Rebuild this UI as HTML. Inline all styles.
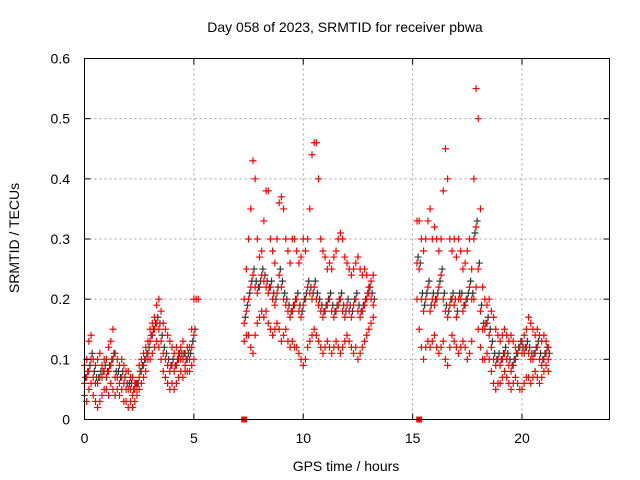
<!DOCTYPE html>
<html><head><meta charset="utf-8"><style>
body{margin:0;background:#fff;}
svg{display:block;font-family:"Liberation Sans",sans-serif;}
</style></head><body>
<svg id="chart" width="640" height="480">
<rect width="640" height="480" fill="#fff"/>
<text x="345" y="32" font-size="14" text-anchor="middle">Day 058 of 2023, SRMTID for receiver pbwa</text>
<text x="346" y="471" font-size="14" text-anchor="middle">GPS time / hours</text>
<text transform="translate(19,238) rotate(-90)" font-size="14" text-anchor="middle">SRMTID / TECUs</text>
<g id="grid"></g>
<g id="marks"></g>
<rect x="84.5" y="58.5" width="525" height="361" fill="none" stroke="#000"/>
<g id="ticks"></g>
</svg>
<script>
const xTicks=[0,5,10,15,20];
const yTicks=[0,0.1,0.2,0.3,0.4,0.5,0.6];
const yTickLabels=["0","0.1","0.2","0.3","0.4","0.5","0.6"];
const segStarts=[0,7.3,15.2];
const segStep=0.1;
const hi1=[0.09,0.1,0.13,0.14,0.1,0.09,0.1,0.11,0.09,0.1,0.1,0.12,0.13,0.15,0.11,0.1,0.09,0.1,0.09,0.08,0.08,0.07,0.07,0.06,0.06,0.09,0.1,0.11,0.12,0.13,0.15,0.16,0.17,0.19,0.2,0.18,0.16,0.15,0.14,0.13,0.12,0.11,0.12,0.11,0.12,0.13,0.11,0.12,0.12,0.15,0.2,0.2,0.2];
const lo1=[0.04,0.03,0.05,0.06,0.04,0.03,0.02,0.03,0.04,0.05,0.05,0.04,0.06,0.05,0.04,0.05,0.04,0.05,0.03,0.03,0.02,0.03,0.02,0.03,0.04,0.05,0.06,0.07,0.08,0.1,0.1,0.11,0.12,0.13,0.12,0.1,0.08,0.07,0.06,0.05,0.06,0.05,0.06,0.07,0.08,0.07,0.08,0.08,0.08,0.09,0.1];
const mid1=[0.06,0.07,0.08,0.1,0.07,0.06,0.06,0.07,0.07,0.08,0.07,0.08,0.09,0.1,0.07,0.07,0.06,0.07,0.06,0.05,0.05,0.05,0.04,0.05,0.05,0.07,0.08,0.09,0.1,0.11,0.13,0.14,0.15,0.16,0.15,0.13,0.11,0.1,0.09,0.08,0.09,0.08,0.09,0.1,0.1,0.1,0.09,0.1,0.1,0.12,0.14];
const hi2=[0.2,0.25,0.3,0.35,0.43,0.4,0.3,0.27,0.28,0.33,0.38,0.38,0.3,0.28,0.26,0.3,0.36,0.37,0.35,0.3,0.28,0.26,0.3,0.3,0.28,0.26,0.27,0.3,0.28,0.3,0.35,0.44,0.46,0.46,0.4,0.3,0.28,0.27,0.25,0.26,0.25,0.27,0.28,0.3,0.31,0.3,0.27,0.26,0.25,0.24,0.25,0.26,0.27,0.25,0.24,0.25,0.24,0.22,0.23,0.24];
const lo2=[0.13,0.14,0.14,0.12,0.11,0.14,0.16,0.17,0.18,0.17,0.18,0.16,0.15,0.14,0.15,0.16,0.15,0.13,0.14,0.15,0.13,0.12,0.13,0.12,0.12,0.11,0.1,0.09,0.1,0.12,0.13,0.14,0.15,0.14,0.13,0.12,0.11,0.12,0.13,0.12,0.11,0.12,0.13,0.12,0.11,0.12,0.13,0.14,0.13,0.12,0.11,0.12,0.1,0.11,0.12,0.13,0.14,0.15,0.16,0.17];
const mid2=[0.16,0.18,0.2,0.22,0.24,0.22,0.21,0.22,0.24,0.23,0.22,0.21,0.22,0.2,0.19,0.21,0.24,0.22,0.2,0.19,0.18,0.17,0.18,0.19,0.2,0.18,0.17,0.19,0.2,0.22,0.21,0.2,0.22,0.2,0.19,0.18,0.17,0.18,0.19,0.2,0.18,0.17,0.18,0.19,0.2,0.18,0.17,0.19,0.18,0.17,0.19,0.2,0.18,0.17,0.18,0.19,0.2,0.21,0.2,0.19];
const hi3=[0.33,0.33,0.3,0.28,0.3,0.33,0.35,0.3,0.32,0.3,0.28,0.3,0.38,0.45,0.4,0.3,0.28,0.3,0.27,0.3,0.28,0.25,0.26,0.28,0.3,0.25,0.4,0.55,0.5,0.35,0.22,0.2,0.19,0.2,0.18,0.17,0.15,0.14,0.13,0.14,0.15,0.14,0.13,0.14,0.13,0.12,0.11,0.12,0.13,0.14,0.15,0.17,0.16,0.15,0.14,0.15,0.14,0.13,0.14,0.13,0.12];
const lo3=[0.2,0.15,0.12,0.1,0.12,0.13,0.12,0.13,0.14,0.12,0.11,0.12,0.13,0.1,0.09,0.12,0.14,0.13,0.12,0.11,0.12,0.13,0.12,0.1,0.11,0.13,0.2,0.22,0.15,0.12,0.1,0.1,0.11,0.1,0.08,0.06,0.05,0.06,0.06,0.07,0.08,0.07,0.06,0.05,0.06,0.07,0.06,0.05,0.05,0.06,0.07,0.07,0.06,0.07,0.08,0.07,0.06,0.07,0.08,0.09,0.08];
const mid3=[0.26,0.25,0.2,0.18,0.2,0.22,0.18,0.2,0.19,0.2,0.22,0.24,0.2,0.18,0.17,0.19,0.2,0.19,0.17,0.2,0.2,0.18,0.19,0.2,0.22,0.2,0.3,0.32,0.25,0.18,0.15,0.15,0.16,0.14,0.12,0.1,0.09,0.1,0.09,0.1,0.11,0.1,0.09,0.08,0.09,0.1,0.11,0.12,0.11,0.11,0.12,0.11,0.1,0.1,0.11,0.12,0.1,0.09,0.1,0.11,0.1];
const zeroMarkers=[7.3,15.3];

const NS="http://www.w3.org/2000/svg";
const X=t=>84.5+t*525/24;
const Y=v=>419.5-v*361/0.6;
function mk(tag,attrs,parent){const e=document.createElementNS(NS,tag);for(const k in attrs)e.setAttribute(k,attrs[k]);parent.appendChild(e);return e;}
const grid=document.getElementById('grid'),ticks=document.getElementById('ticks'),marks=document.getElementById('marks');
xTicks.forEach(t=>{
  const x=X(t);
  if(t>0){const g=mk('line',{x1:x,x2:x,y1:58.5,y2:419.5,stroke:'#a0a0a0','stroke-dasharray':'2,3'},grid);
  
  }
  mk('line',{x1:x,x2:x,y1:419.5,y2:413.5,stroke:'#000'},ticks);
  mk('line',{x1:x,x2:x,y1:58.5,y2:64.5,stroke:'#000'},ticks);
  const l=mk('text',{x:x,y:443,'font-size':14,'text-anchor':'middle'},ticks);l.textContent=t;
  
  
});
yTicks.forEach((v,i)=>{
  const y=Y(v);
  if(v>0){const g=mk('line',{x1:84.5,x2:609.5,y1:y,y2:y,stroke:'#a0a0a0','stroke-dasharray':'2,3'},grid);
  
  }
  mk('line',{x1:84.5,x2:90.5,y1:y,y2:y,stroke:'#000'},ticks);
  mk('line',{x1:609.5,x2:603.5,y1:y,y2:y,stroke:'#000'},ticks);
  const l=mk('text',{x:70,y:y+5,'font-size':14,'text-anchor':'end'},ticks);l.textContent=yTickLabels[i];
  
  
});
function cross(t,v,color){
  const x=X(t),y=Y(v);
  const p=mk('path',{d:`M${x-3.5} ${y}h7M${x} ${y-3.5}v7`,stroke:color,'stroke-width':1.2,fill:'none'},marks);
  
  
}
const segs=[[hi1,lo1,mid1],[hi2,lo2,mid2],[hi3,lo3,mid3]];
segs.forEach((s,si)=>{
  s[2].forEach((v,i)=>cross(segStarts[si]+i*segStep+0.05,v+0.01,'#333'));
  s.forEach(arr=>arr.forEach((v,i)=>cross(segStarts[si]+i*segStep,v,'#f00')));
});
zeroMarkers.forEach(t=>{
  const r=mk('rect',{x:X(t)-3,y:Y(0)-3,width:6,height:6,fill:'#f00'},marks);
  
  
});
</script>
</body></html>
